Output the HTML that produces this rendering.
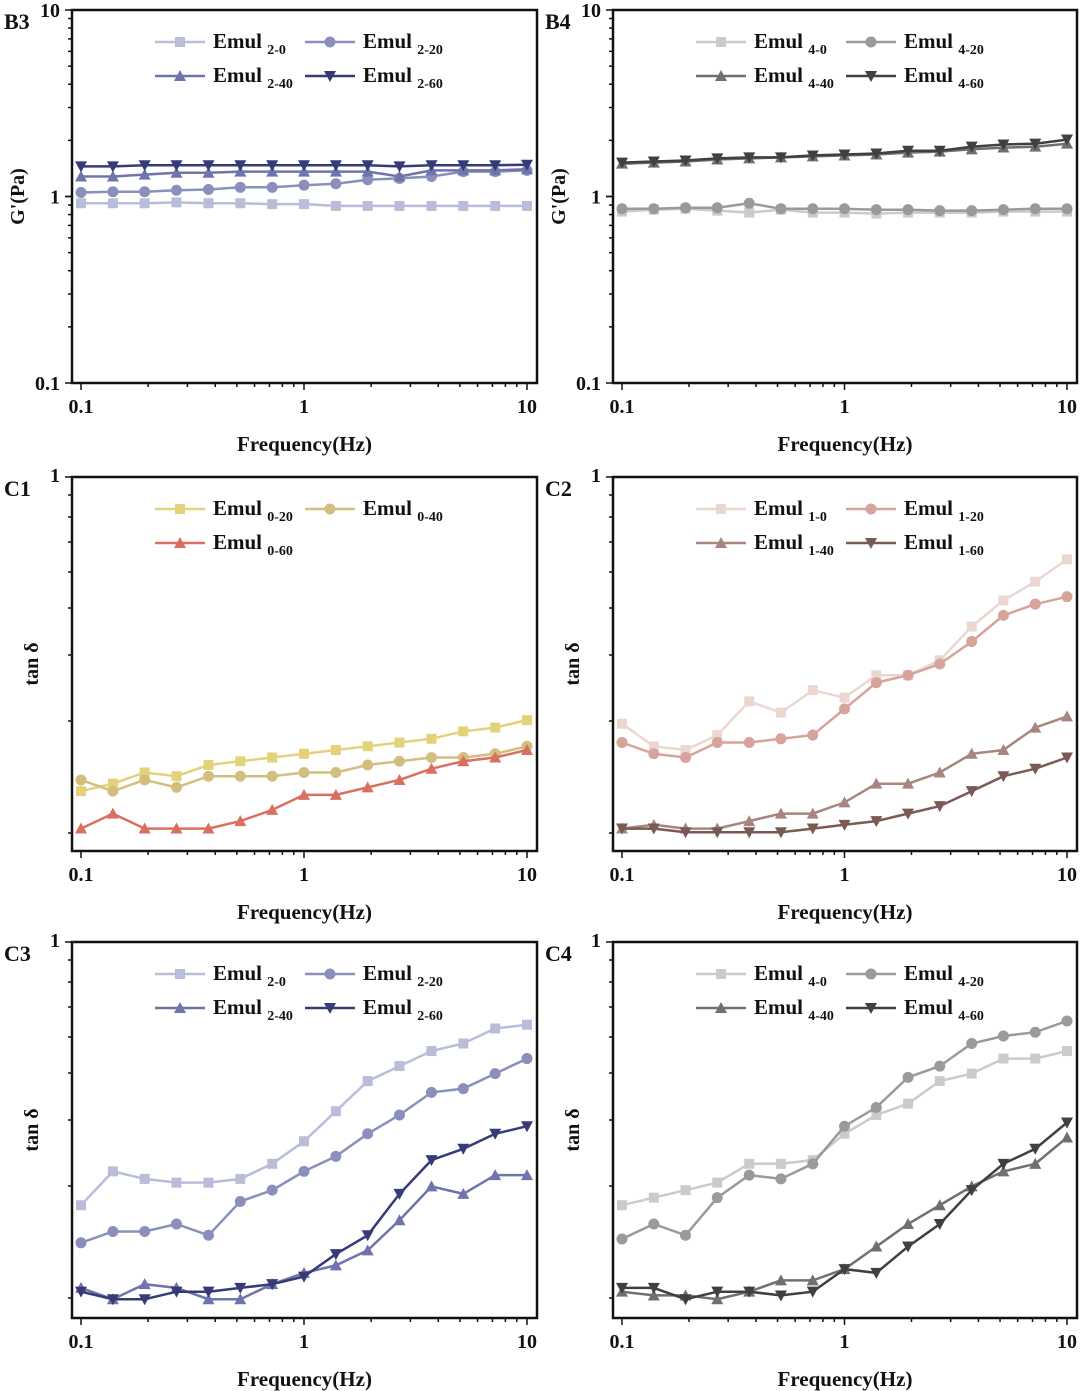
<!DOCTYPE html>
<html><head><meta charset="utf-8"><style>
body{margin:0;background:#fff}
svg{display:block}
text{font-family:"Liberation Serif",serif;font-weight:bold;fill:#111}
</style></head><body>
<svg id="chart" width="1080" height="1391" viewBox="0 0 1080 1391" xmlns="http://www.w3.org/2000/svg"></svg>
<script>
const frequencies=[0.1,0.139,0.193,0.268,0.373,0.518,0.72,1,1.39,1.93,2.68,3.73,5.18,7.2,10];
const xTickLabels=["0.1","1","10"];
const gTickLabels=["0.1","1","10"];
const tanTickLabels=["1"];
// B3 G' (Pa)
const b3_e20=[0.92,0.92,0.92,0.93,0.92,0.92,0.91,0.91,0.89,0.89,0.89,0.89,0.89,0.89,0.89];
const b3_e220=[1.05,1.06,1.06,1.08,1.09,1.12,1.12,1.15,1.17,1.23,1.25,1.28,1.36,1.36,1.38];
const b3_e240=[1.28,1.28,1.31,1.34,1.34,1.36,1.36,1.36,1.36,1.36,1.28,1.38,1.38,1.38,1.40];
const b3_e260=[1.45,1.45,1.47,1.47,1.47,1.47,1.47,1.47,1.47,1.47,1.45,1.47,1.47,1.47,1.48];
// B4 G' (Pa)
const b4_e40=[0.83,0.85,0.86,0.84,0.82,0.85,0.82,0.82,0.81,0.82,0.82,0.82,0.83,0.83,0.83];
const b4_e420=[0.86,0.86,0.87,0.87,0.92,0.86,0.86,0.86,0.85,0.85,0.84,0.84,0.85,0.86,0.86];
const b4_e440=[1.50,1.52,1.54,1.58,1.60,1.62,1.64,1.66,1.68,1.72,1.74,1.79,1.83,1.85,1.92];
const b4_e460=[1.52,1.54,1.56,1.60,1.62,1.62,1.66,1.68,1.70,1.76,1.76,1.85,1.90,1.92,2.02];
// C1 tan delta
const c1_e020=[0.16,0.18,0.21,0.20,0.23,0.24,0.25,0.26,0.27,0.28,0.29,0.30,0.32,0.33,0.35];
const c1_e040=[0.19,0.16,0.19,0.17,0.20,0.20,0.20,0.21,0.21,0.23,0.24,0.25,0.25,0.26,0.28];
const c1_e060=[0.06,0.10,0.06,0.06,0.06,0.08,0.11,0.15,0.15,0.17,0.19,0.22,0.24,0.25,0.27];
// C2
const c2_e10=[0.34,0.28,0.27,0.31,0.40,0.37,0.43,0.41,0.47,0.47,0.51,0.60,0.67,0.72,0.78];
const c2_e120=[0.29,0.26,0.25,0.29,0.29,0.30,0.31,0.38,0.45,0.47,0.50,0.56,0.63,0.66,0.68];
const c2_e140=[0.06,0.07,0.06,0.06,0.08,0.10,0.10,0.13,0.18,0.18,0.21,0.26,0.27,0.33,0.36];
const c2_e160=[0.06,0.06,0.05,0.05,0.05,0.05,0.06,0.07,0.08,0.10,0.12,0.16,0.20,0.22,0.25];
// C3
const c3_e20=[0.30,0.39,0.37,0.36,0.36,0.37,0.41,0.47,0.55,0.63,0.67,0.71,0.73,0.77,0.78];
const c3_e220=[0.20,0.23,0.23,0.25,0.22,0.31,0.34,0.39,0.43,0.49,0.54,0.60,0.61,0.65,0.69];
const c3_e240=[0.08,0.05,0.09,0.08,0.05,0.05,0.09,0.12,0.14,0.18,0.26,0.35,0.33,0.38,0.38];
const c3_e260=[0.07,0.05,0.05,0.07,0.07,0.08,0.09,0.11,0.17,0.22,0.33,0.42,0.45,0.49,0.51];
// C4
const c4_e40=[0.30,0.32,0.34,0.36,0.41,0.41,0.42,0.49,0.54,0.57,0.63,0.65,0.69,0.69,0.71];
const c4_e420=[0.21,0.25,0.22,0.32,0.38,0.37,0.41,0.51,0.56,0.64,0.67,0.73,0.75,0.76,0.79];
const c4_e440=[0.07,0.06,0.06,0.05,0.07,0.10,0.10,0.13,0.19,0.25,0.30,0.35,0.39,0.41,0.48];
const c4_e460=[0.08,0.08,0.05,0.07,0.07,0.06,0.07,0.13,0.12,0.19,0.25,0.34,0.41,0.45,0.52];

const NS="http://www.w3.org/2000/svg";
const svg=document.getElementById('chart');
function mk(tag,attrs,parent){const e=document.createElementNS(NS,tag);for(const k in attrs)e.setAttribute(k,attrs[k]);(parent||svg).appendChild(e);return e;}

const panels=[
 {id:'b3',label:'B3',L:72,R:537,T:10,B:383,type:'g',series:[[b3_e20,'#b9bdd8','sq','2-0'],[b3_e220,'#8b8fbb','ci','2-20'],[b3_e240,'#6f74ad','tu','2-40'],[b3_e260,'#363b78','td','2-60']]},
 {id:'b4',label:'B4',L:613,R:1077,T:10,B:383,type:'g',series:[[b4_e40,'#cbcbcb','sq','4-0'],[b4_e420,'#9a9a9a','ci','4-20'],[b4_e440,'#707070','tu','4-40'],[b4_e460,'#404040','td','4-60']]},
 {id:'c1',label:'C1',L:72,R:537,T:477,B:851,type:'t',series:[[c1_e020,'#e4d27a','sq','0-20'],[c1_e040,'#d2bf80','ci','0-40'],[c1_e060,'#d9705f','tu','0-60']]},
 {id:'c2',label:'C2',L:613,R:1077,T:477,B:851,type:'t',series:[[c2_e10,'#ecd6d2','sq','1-0'],[c2_e120,'#d6a49b','ci','1-20'],[c2_e140,'#a88680','tu','1-40'],[c2_e160,'#7a5a55','td','1-60']]},
 {id:'c3',label:'C3',L:72,R:537,T:942,B:1318,type:'t',series:[[c3_e20,'#b9bdd8','sq','2-0'],[c3_e220,'#8b8fbb','ci','2-20'],[c3_e240,'#6f74ad','tu','2-40'],[c3_e260,'#363b78','td','2-60']]},
 {id:'c4',label:'C4',L:613,R:1077,T:942,B:1318,type:'t',series:[[c4_e40,'#cbcbcb','sq','4-0'],[c4_e420,'#9a9a9a','ci','4-20'],[c4_e440,'#707070','tu','4-40'],[c4_e460,'#404040','td','4-60']]}
];

function marker(g,type,x,y,c){
 const s=5;
 if(type==='sq')return mk('rect',{x:x-s,y:y-s,width:2*s,height:2*s,fill:c},g);
 if(type==='ci')return mk('circle',{cx:x,cy:y,r:s+0.5,fill:c},g);
 if(type==='tu')return mk('polygon',{points:`${x},${y-6} ${x-6},${y+5} ${x+6},${y+5}`,fill:c},g);
 return mk('polygon',{points:`${x},${y+6} ${x-6},${y-5} ${x+6},${y-5}`,fill:c},g);
}

panels.forEach(p=>{
 const g=mk('g',{});
 
 
 const x0=p.L+9,x1=p.R-10;
 const xS=f=>x0+(Math.log10(f)+1)/2*(x1-x0);
 const yS=p.type==='g'?(v=>p.B-(Math.log10(v)+1)/2*(p.B-p.T)):(v=>p.B-v*(p.B-p.T));
 // series
 p.series.forEach(s=>{
  const sg=mk('g',{},g);
  
  
  const pts=s[0].map((v,i)=>xS(frequencies[i]).toFixed(1)+','+yS(v).toFixed(1)).join(' ');
  mk('polyline',{points:pts,fill:'none',stroke:s[1],'stroke-width':2.5},sg);
  s[0].forEach((v,i)=>{const m=marker(sg,s[2],xS(frequencies[i]),yS(v),s[1]);
   
   });
 });
 // box
 const box=mk('rect',{x:p.L,y:p.T,width:p.R-p.L,height:p.B-p.T,fill:'none',stroke:'#111','stroke-width':2.5},g);
 
 
 // x ticks
 [-1,0,1].forEach(d=>{for(let k=1;k<10;k++){if(d===1&&k>1)break;const f=k*Math.pow(10,d);const x=xS(f);
  mk('line',{x1:x,x2:x,y1:p.B,y2:p.B+(k===1?7:4),stroke:'#111','stroke-width':1.5},g);}});
 xTickLabels.forEach(l=>{const t=mk('text',{x:xS(parseFloat(l)),y:p.B+30,'text-anchor':'middle','font-size':20},g);t.textContent=l;
  
  });
 const xt=mk('text',{x:(p.L+p.R)/2,y:p.B+68,'text-anchor':'middle','font-size':21},g);xt.textContent='Frequency(Hz)';
 
 
 // y ticks
 if(p.type==='g'){
  [-1,0].forEach(d=>{for(let k=1;k<=10;k++){const v=k*Math.pow(10,d);const y=yS(v);
   mk('line',{x1:p.L,x2:p.L-(k===1||k===10?7:4),y1:y,y2:y,stroke:'#111','stroke-width':1.5},g);}});
  gTickLabels.forEach(l=>{const t=mk('text',{x:p.L-12,y:yS(parseFloat(l))+7,'text-anchor':'end','font-size':20},g);t.textContent=l;
   
   });
  const yt=mk('text',{x:0,y:0,'text-anchor':'middle','font-size':20,transform:`translate(${p.L-48},${(p.T+p.B)/2}) rotate(-90)`},g);yt.textContent="G'(Pa)";
  
  
 } else {
  [0,18,40,65,95,131,178,244,356].forEach(o=>{const y=p.T+o;
   mk('line',{x1:p.L,x2:p.L-(o===0?7:4),y1:y,y2:y,stroke:'#111','stroke-width':1.5},g);});
  tanTickLabels.forEach(l=>{const t=mk('text',{x:p.L-12,y:yS(parseFloat(l))+5,'text-anchor':'end','font-size':20},g);t.textContent=l;
   
   });
  const yt=mk('text',{x:0,y:0,'text-anchor':'middle','font-size':20,transform:`translate(${p.L-34},${(p.T+p.B)/2}) rotate(-90)`},g);yt.textContent='tan δ';
  
  
 }
 const pl=mk('text',{x:p.L-68,y:p.T+19,'font-size':22},g);pl.textContent=p.label;
 
 
 // legend
 p.series.forEach((s,i)=>{
  const col=i%2,row=Math.floor(i/2);
  const lx=p.L+83+col*150,ly=p.T+32+row*34;
  const lg=mk('g',{},g);
  
  
  mk('line',{x1:lx,x2:lx+50,y1:ly,y2:ly,stroke:s[1],'stroke-width':2.5},lg);
  marker(lg,s[2],lx+25,ly,s[1]);
  const t=mk('text',{x:lx+58,y:ly+6,'font-size':21},lg);
  t.appendChild(document.createTextNode('Emul '));
  const ts=mk('tspan',{'font-size':14,dy:6},t);ts.textContent=s[3];
 });
});
</script>
</body></html>
